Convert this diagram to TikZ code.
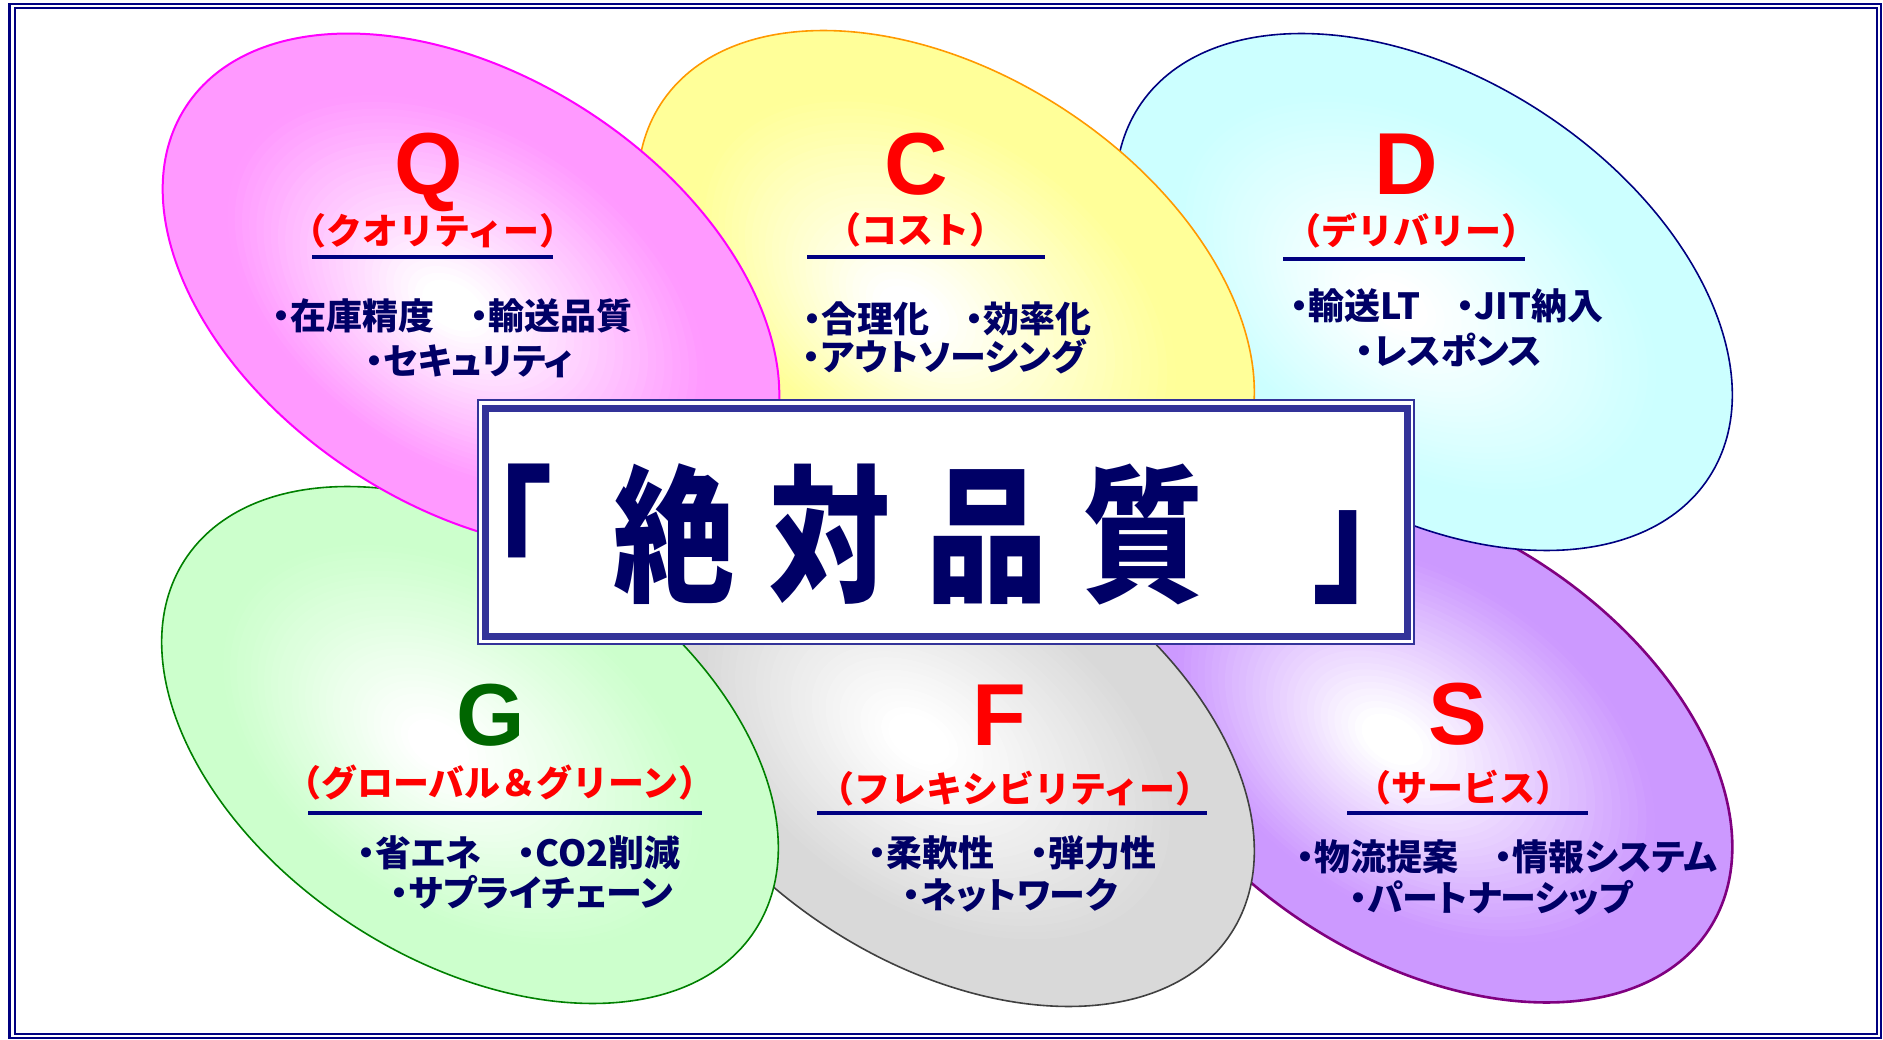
\documentclass[tikz,border=0pt]{standalone}
\usepackage{fontspec}
\setmainfont{Liberation Sans}
\newfontfamily\jp{Noto Sans CJK JP}
\newfontfamily\jpp{Noto Sans CJK JP}[RawFeature=+palt]
\newfontfamily\lat{Liberation Sans}
\definecolor{qfill}{HTML}{FF99FF}\definecolor{qline}{HTML}{FF00FF}
\definecolor{cfill}{HTML}{FFFF99}\definecolor{cline}{HTML}{FF9900}
\definecolor{dfill}{HTML}{CCFFFF}\definecolor{dline}{HTML}{000080}
\definecolor{gfill}{HTML}{CCFFCC}\definecolor{gline}{HTML}{008000}
\definecolor{ffill}{HTML}{D9D9D9}\definecolor{fline}{HTML}{404040}
\definecolor{sfill}{HTML}{CC99FF}\definecolor{sline}{HTML}{800080}
\definecolor{navy}{HTML}{000080}
\definecolor{bodycol}{HTML}{000066}
\definecolor{boxcol}{HTML}{333399}
\definecolor{gletter}{HTML}{006600}
% #1,#2 centre; #3 fill colour; #4 line colour; #5 line width; #6,#7 offset of the light spot
\newcommand\blobdraw[7]{%
  \begin{scope}
    \clip[shift={(#1,#2)}, rotate=-33] (0,0) ellipse (340 and 215);
    \foreach \t in {1.000,0.975,...,0.020}{%
      \pgfmathtruncatemacro\pct{max(0,min(100,(\t-0.10)/0.68*100))}%
      \fill[#3!\pct!white, shift={({#1+#6*(1-\t)},{#2+#7*(1-\t)})}, rotate=-33] (0,0) ellipse ({340*\t} and {215*\t});
    }
  \end{scope}
  \draw[#4, line width=#5, shift={(#1,#2)}, rotate=-33] (0,0) ellipse (340 and 215);
}
\begin{document}
\begin{tikzpicture}[x=1pt,y=1pt,
  letter/.style={font=\lat\bfseries\fontsize{88}{88}\selectfont, text=red, anchor=base, inner sep=0pt},
  subt/.style={font=\jp\bfseries\fontsize{36}{36}\selectfont, text=red, anchor=base, inner sep=0pt},
  bodyt/.style={font=\jpp\bfseries\fontsize{36}{36}\selectfont, text=bodycol, anchor=base, inner sep=0pt},
  uline/.style={draw=navy, line width=4pt}]
\path[use as bounding box] (0,0) rectangle (1883,-1040);
\fill[white] (0,0) rectangle (1883,-1040);
% outer double frame
\draw[navy, line width=2.3pt] (9.5,-3.7) rectangle (1881,-1037.7);
\draw[navy, line width=2.3pt] (14.7,-8.3) rectangle (1877,-1033.7);
% ellipses (back to front)
\blobdraw{1424}{-744}{sfill}{sline}{2.6pt}{-35}{5}
\blobdraw{946}{-748}{ffill}{fline}{1.6pt}{-30}{10}
\blobdraw{470}{-745}{gfill}{gline}{1.6pt}{-35}{0}
\blobdraw{1424}{-292}{dfill}{dline}{1.6pt}{-30}{-15}
\blobdraw{946}{-289}{cfill}{cline}{1.6pt}{-40}{-25}
\blobdraw{471}{-292}{qfill}{qline}{2pt}{-20}{-15}
% Q
\node[letter] (Qt) at (429,-195) {Q};
\node[subt] (Qs) at (433,-245) {（クオリティー）};
\draw[uline] (312,-257) -- (553,-257);
\node[bodyt] (Qb1) at (452,-330) {・在庫精度　・輸送品質};
\node[bodyt] (Qb2) at (469,-375) {・セキュリティ};
% C
\node[letter] (Ct) at (916,-195) {C};
\node[subt] (Cs) at (915,-244) {（コスト）};
\draw[uline] (807,-257) -- (1045,-257);
\node[bodyt] (Cb1) at (947,-333) {・合理化　・効率化};
\node[bodyt] (Cb2) at (944,-371) {・アウトソーシング};
% D
\node[letter] (Dt) at (1406,-195) {D};
\node[subt] (Ds) at (1411,-245) {（デリバリー）};
\draw[uline] (1283,-259) -- (1525,-259);
\node[bodyt] (Db1) at (1447,-320) {・輸送LT　・JIT納入};
\node[bodyt] (Db2) at (1449,-365) {・レスポンス};
% G
\node[letter, text=gletter] (Gt) at (491,-745) {G};
\node[subt] (Gs) at (500,-796) {（グローバル＆グリーン）};
\draw[uline] (308,-813) -- (702,-813);
\node[bodyt] (Gb1) at (519,-866) {・省エネ　・CO2削減};
\node[bodyt] (Gb2) at (532,-906) {・サプライチェーン};
% F
\node[letter] (Ft) at (999,-745) {F};
\node[subt] (Fs) at (1015,-802) {（フレキシビリティー）};
\draw[uline] (817,-813) -- (1207,-813);
\node[bodyt] (Fb1) at (1012,-866) {・柔軟性　・弾力性};
\node[bodyt] (Fb2) at (1010,-908) {・ネットワーク};
% S
\node[letter] (St) at (1458,-744) {S};
\node[subt] (Ss) at (1463,-801) {（サービス）};
\draw[uline] (1347,-813) -- (1588,-813);
\node[bodyt] (Sb1) at (1507,-870) {・物流提案　・情報システム};
\node[bodyt] (Sb2) at (1491,-911) {・パートナーシップ};
% central box
\fill[white] (478,-400) rectangle (1414,-644);
\draw[boxcol, line width=1.6pt] (478,-400) rectangle (1414,-644);
\draw[boxcol, line width=7pt] (485.5,-408.5) rectangle (1407.5,-636.5);
\node[font=\jp\bfseries\fontsize{148}{148}\selectfont, text=bodycol, xscale=0.82, anchor=base, inner sep=0pt] (T) at (933,-590) {「\hspace{73pt}絶\hspace{43pt}対\hspace{43pt}品\hspace{43pt}質\hspace{132pt}」};
\end{tikzpicture}
\end{document}
